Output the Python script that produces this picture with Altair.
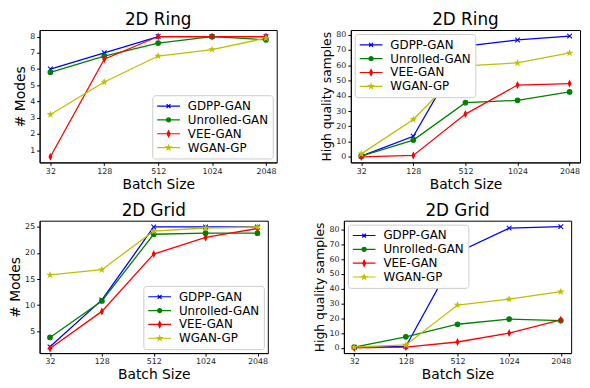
import altair as alt
import pandas as pd

batch = ["32", "128", "512", "1024", "2048"]
methods = ["GDPP-GAN", "Unrolled-GAN", "VEE-GAN", "WGAN-GP"]
colors = ["#0000ff", "#008000", "#ff0000", "#bfbf00"]
shapes = [
    "M-1,-1L1,1M-1,1L1,-1",
    "circle",
    "M0,-1.2L0.6,0L0,1.2L-0.6,0Z",
    "M0,-1L0.24,-0.31L0.95,-0.31L0.38,0.12L0.59,0.81L0,0.38L-0.59,0.81L-0.38,0.12L-0.95,-0.31L-0.24,-0.31Z",
]
# legend symbols: a short line with the marker in its middle
legend_shapes = [
    "M-1,0L1,0M-0.17,-0.17L0.17,0.17M-0.17,0.17L0.17,-0.17",
    "M-1,0L1,0M0.18,0A0.18,0.18,0,1,1,-0.18,0A0.18,0.18,0,1,1,0.18,0Z",
    "M-1,0L1,0M0,-0.26L0.13,0L0,0.26L-0.13,0Z",
    "M-1,0L1,0M0,-0.2L0.048,-0.062L0.19,-0.062L0.076,0.024L0.118,0.162L0,0.076L-0.118,0.162L-0.076,0.024L-0.19,-0.062L-0.048,-0.062Z",
]

# 2D Ring - # Modes
ring_modes_gdpp = [6.0, 7.0, 8.0, 8.0, 8.0]
ring_modes_unrolled = [5.8, 6.8, 7.6, 8.0, 7.8]
ring_modes_vee = [0.6, 6.6, 8.0, 8.0, 8.0]
ring_modes_wgan = [3.2, 5.2, 6.8, 7.2, 7.9]

# 2D Ring - High quality samples
ring_hq_gdpp = [0.5, 13.5, 72.5, 76.5, 79.0]
ring_hq_unrolled = [0.5, 11.0, 35.5, 37.0, 42.5]
ring_hq_vee = [0.0, 1.0, 28.0, 47.0, 48.0]
ring_hq_wgan = [2.0, 24.5, 59.5, 61.5, 68.0]

# 2D Grid - # Modes
grid_modes_gdpp = [2.0, 11.0, 25.0, 25.0, 25.0]
grid_modes_unrolled = [3.8, 10.8, 23.6, 23.8, 23.8]
grid_modes_vee = [1.7, 8.8, 19.8, 23.0, 24.7]
grid_modes_wgan = [15.8, 16.8, 24.2, 24.8, 25.0]

# 2D Grid - High quality samples
grid_hq_gdpp = [0.3, 1.0, 64.5, 81.0, 82.0]
grid_hq_unrolled = [0.5, 7.5, 16.0, 19.5, 18.5]
grid_hq_vee = [0.0, 0.5, 4.0, 10.0, 19.0]
grid_hq_wgan = [0.5, 2.0, 29.0, 33.0, 38.0]

FONT = "DejaVu Sans"


def panel(title, ylab, series, ydomain, yticks, orient, w, h, ytitle_size):
    rows = []
    for m, vals in zip(methods, series):
        for b, v in zip(batch, vals):
            rows.append({"batch": b, "method": m, "value": v})
    df = pd.DataFrame(rows)
    x = alt.X("batch:N", sort=batch, scale=alt.Scale(type="point", padding=0.2),
              axis=alt.Axis(title="Batch Size", labelAngle=0))
    y = alt.Y("value:Q", scale=alt.Scale(domain=ydomain, nice=False, zero=False),
              axis=alt.Axis(title=ylab, values=yticks, titleFontSize=ytitle_size))
    leg = alt.Legend(
        title=None, orient=orient, labelFontSize=12, labelFont=FONT,
        strokeColor="#cccccc", fillColor="white", padding=4,
        cornerRadius=3, symbolSize=530, rowPadding=0, offset=4, clipHeight=14,
        symbolStrokeWidth=1.2, symbolOpacity=1, labelOffset=7,
    )
    cscale = alt.Scale(domain=methods, range=colors)
    color = alt.Color("method:N", scale=cscale, legend=leg)
    stroke = alt.Stroke("method:N", scale=cscale, legend=leg)

    line = alt.Chart(df).mark_line(strokeWidth=1.3).encode(x=x, y=y, color=color)
    layers = [line]
    for m, shp in zip(methods, shapes):
        layers.append(
            alt.Chart(df[df["method"] == m]).mark_point(
                filled=True, size=22, strokeWidth=1.1, opacity=1, shape=shp
            ).encode(x=x, y=y, color=color, stroke=stroke)
        )
    legend_layer = alt.Chart(df).mark_point(
        filled=True, size=530, strokeWidth=1.2, opacity=0
    ).encode(
        x=x, y=y, color=color, stroke=stroke,
        shape=alt.Shape("method:N", scale=alt.Scale(domain=methods, range=legend_shapes), legend=leg),
    )
    layers.append(legend_layer)
    return alt.layer(*layers).properties(
        width=w, height=h,
        title=alt.TitleParams(title, fontSize=17, font=FONT, fontWeight="normal", offset=1),
    )


H = 134
p1 = panel("2D Ring", "# Modes",
           [ring_modes_gdpp, ring_modes_unrolled, ring_modes_vee, ring_modes_wgan],
           [0.25, 8.4], [1, 2, 3, 4, 5, 6, 7, 8], "bottom-right", 240, H, 14)
p2 = panel("2D Ring", "High quality samples",
           [ring_hq_gdpp, ring_hq_unrolled, ring_hq_vee, ring_hq_wgan],
           [-3.6, 83], [0, 10, 20, 30, 40, 50, 60, 70, 80], "top-left", 232, H, 12.5)
p3 = panel("2D Grid", "# Modes",
           [grid_modes_gdpp, grid_modes_unrolled, grid_modes_vee, grid_modes_wgan],
           [0.8, 26.2], [5, 10, 15, 20, 25], "bottom-right", 231, H, 14)
p4 = panel("2D Grid", "High quality samples",
           [grid_hq_gdpp, grid_hq_unrolled, grid_hq_vee, grid_hq_wgan],
           [-3.5, 86], [0, 10, 20, 30, 40, 50, 60, 70, 80], "top-left", 230, H, 12.5)

res = dict(color="independent", shape="independent", stroke="independent")
row1 = alt.hconcat(p1, p2, spacing=42).resolve_scale(**res).resolve_legend(**res)
row2 = alt.hconcat(p3, p4, spacing=44).resolve_scale(**res).resolve_legend(**res)

chart = alt.vconcat(row1, row2, spacing=9).resolve_scale(**res).resolve_legend(**res).properties(
    padding=0
).configure_view(stroke="black", strokeWidth=1).configure_axis(
    grid=False, labelFontSize=8, labelFont=FONT, labelColor="#222222",
    titleFontSize=14, titleFont=FONT, titleFontWeight="normal", titleColor="black",
    domainColor="black", tickColor="black", tickSize=3, labelPadding=2, titlePadding=2,
)

chart.save("out.html", embed_options={"renderer": "svg", "actions": False})
